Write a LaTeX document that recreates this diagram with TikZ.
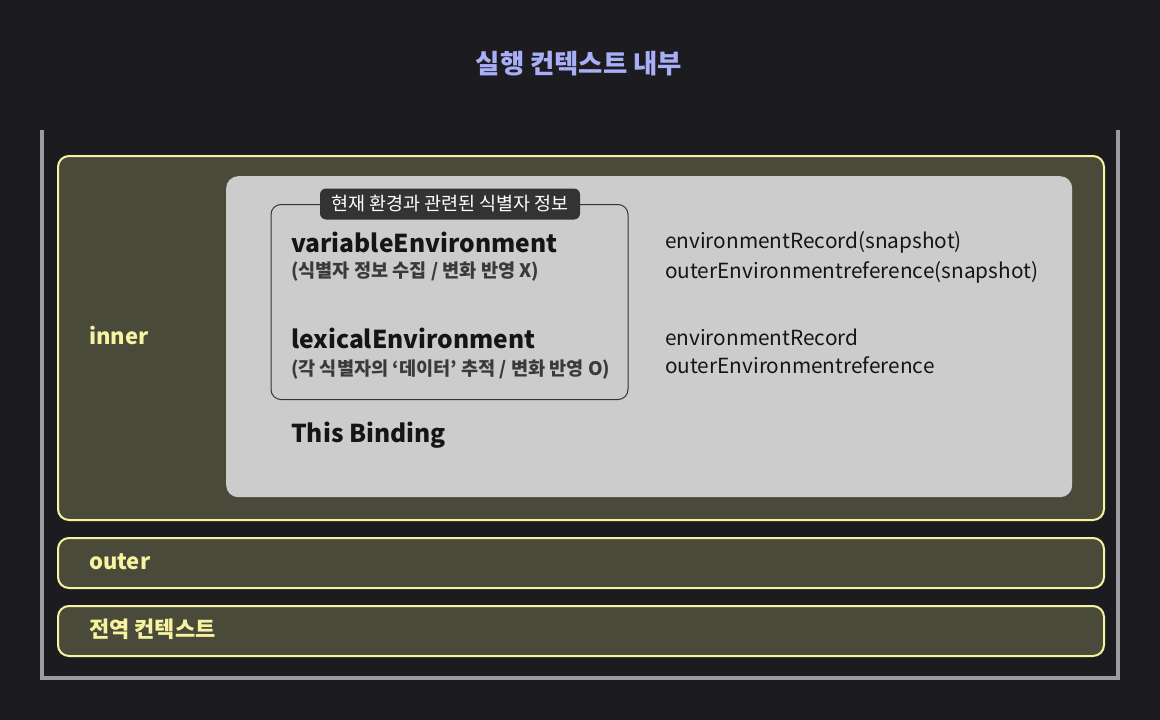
\documentclass[tikz,border=0pt]{standalone}
\usepackage{fontspec}
\setmainfont{Noto Sans CJK KR}
\definecolor{bgc}{HTML}{1C1B20}
\definecolor{framec}{HTML}{9C9BA0}
\definecolor{ylw}{HTML}{F7F3A0}
\definecolor{boxfill}{HTML}{4A4A3B}
\definecolor{panelc}{HTML}{CCCCCC}
\definecolor{pillc}{HTML}{333333}
\definecolor{titlec}{HTML}{A8AFF7}
\definecolor{darktext}{HTML}{151515}
\definecolor{subtext}{HTML}{3A3A3A}
\tikzset{
  ctxbox/.style={draw=ylw, line width=2pt, fill=boxfill, rounded corners=11pt, anchor=north west, inner sep=0pt},
  panelbox/.style={fill=panelc, rounded corners=12pt, anchor=north west, inner sep=0pt},
  groupbox/.style={draw=pillc, line width=1pt, rounded corners=10pt, anchor=north west, inner sep=0pt},
  pill/.style={fill=pillc, rounded corners=6pt, inner sep=0pt, minimum width=260pt, minimum height=31pt, text=white, font=\fontsize{18.5}{20}\selectfont},
  ctxlab/.style={text=ylw, font=\fontsize{22}{24}\selectfont\bfseries, anchor=base west, inner sep=0pt},
  envname/.style={text=darktext, font=\fontsize{24.6}{28}\selectfont\bfseries, anchor=base west, inner sep=0pt},
  envsub/.style={text=subtext, font=\fontsize{18.6}{20}\selectfont\bfseries, anchor=base west, inner sep=0pt},
  rectext/.style={text=darktext, font=\fontsize{20.8}{23}\selectfont, anchor=base west, inner sep=0pt},
}
\begin{document}
\begin{tikzpicture}[x=1pt,y=-1pt]
\useasboundingbox (0,0) rectangle (1160,720);
\fill[bgc] (0,0) rectangle (1160,720);
% title
\node[text=titlec, font=\fontsize{26.4}{29}\selectfont\bfseries, inner sep=0pt] (title) at (579,64) {실행 컨텍스트 내부};
% outer frame (open at top)
\draw[framec, line width=3.5pt] (42,130) -- (42,678) -- (1118,678) -- (1118,130);
% context boxes
\node[ctxbox, minimum width=1046pt, minimum height=364pt] (innerbox) at (57,155) {};
\node[ctxbox, minimum width=1046pt, minimum height=50pt] (outerbox) at (57,537) {};
\node[ctxbox, minimum width=1046pt, minimum height=50pt] (globalbox) at (57,605) {};
\node[ctxlab] (innerlab) at (89,344) {inner};
\node[ctxlab] (outerlab) at (89,569) {outer};
\node[ctxlab] (globallab) at (89,637) {전역 컨텍스트};
% grey panel
\node[panelbox, minimum width=846pt, minimum height=321pt] (panel) at (226,176) {};
% group box with label
\node[groupbox, minimum width=357pt, minimum height=195pt] (group) at (270.5,204) {};
\node[pill] (pilllab) at (450,204) {현재 환경과 관련된 식별자 정보};
% environment names
\node[envname] (varenv) at (291,252) {variableEnvironment};
\node[envsub] (varsub) at (291,277) {(식별자 정보 수집 / 변화 반영 X)};
\node[envname] (lexenv) at (291,348) {lexicalEnvironment};
\node[envsub] (lexsub) at (291,375) {(각 식별자의 ‘데이터’ 추적 / 변화 반영 O)};
\node[envname] (thisb) at (291,442) {This Binding};
% records
\node[rectext] (rec1) at (665,248) {environmentRecord(snapshot)};
\node[rectext] (rec2) at (665,278) {outerEnvironmentreference(snapshot)};
\node[rectext] (rec3) at (665,345) {environmentRecord};
\node[rectext] (rec4) at (665,373) {outerEnvironmentreference};
\end{tikzpicture}
\end{document}
